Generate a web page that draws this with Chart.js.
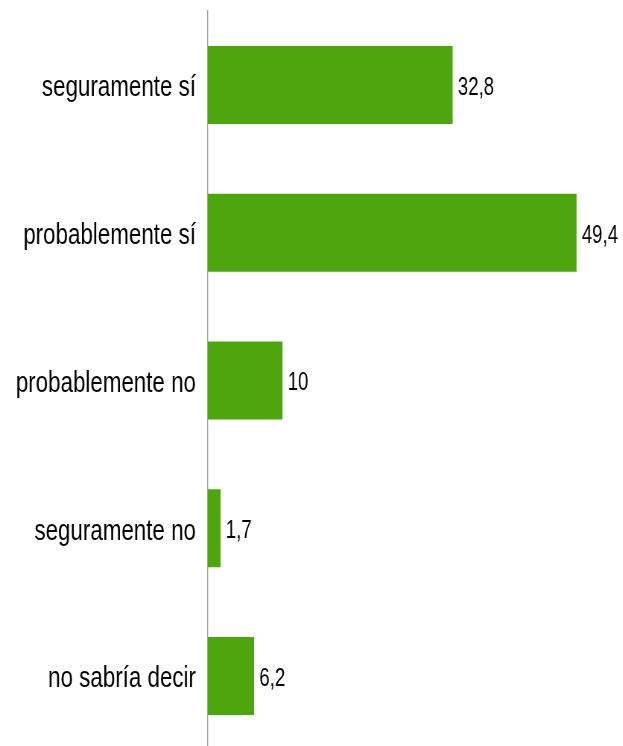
<!DOCTYPE html>
<html>
<head>
<meta charset="utf-8">
<script src="https://cdn.jsdelivr.net/npm/chart.js@4/dist/chart.umd.min.js"></script>
<style>
  html, body { margin: 0; padding: 0; background: #fff; overflow: hidden; }
  /* drawn wide, then squeezed horizontally for a narrow-type look */
  #wrap {
    position: relative;
    width: 836px;
    height: 750px;
    transform: scaleX(0.745);
    transform-origin: 0 0;
  }
</style>
</head>
<body>
<div id="wrap"><canvas id="chart"></canvas></div>
<script>
const categories = ['seguramente sí', 'probablemente sí', 'probablemente no', 'seguramente no', 'no sabría decir'];
const values = [32.8, 49.4, 10, 1.7, 6.2];

const labelFont = "'Liberation Sans', Arial, sans-serif";

// writes the value next to the end of each bar, with a decimal comma
const valueLabels = {
    id: 'valueLabels',
    afterDatasetsDraw(chart) {
        const ctx = chart.ctx;
        const meta = chart.getDatasetMeta(0);
        ctx.save();
        ctx.font = '25px ' + labelFont;
        ctx.fillStyle = '#000';
        ctx.textAlign = 'left';
        ctx.textBaseline = 'middle';
        meta.data.forEach((bar, i) => {
            const txt = String(values[i]).replace('.', ',');
            ctx.fillText(txt, bar.x + 7, bar.y + 3);
        });
        ctx.restore();
    }
};

new Chart(document.getElementById('chart'), {
    type: 'bar',
    data: {
        labels: categories,
        datasets: [{
            data: values,
            backgroundColor: '#4ea60e',
            borderWidth: 0,
            categoryPercentage: 1,
            barPercentage: 0.528
        }]
    },
    options: {
        indexAxis: 'y',
        responsive: true,
        maintainAspectRatio: false,
        animation: false,
        layout: { padding: { top: 11, right: 6, bottom: 0, left: 0 } },
        plugins: {
            legend: { display: false },
            tooltip: { enabled: false }
        },
        scales: {
            x: {
                display: false,
                min: 0,
                max: 55
            },
            y: {
                grid: { display: false },
                border: { display: true, color: '#a0a0a0', width: 1.34 },
                ticks: {
                    color: '#000',
                    padding: 8,
                    labelOffset: 3,
                    font: { family: labelFont, size: 30 }
                },
                afterFit(scale) {
                    scale.width = 279;
                    scale.paddingTop = 0;
                    scale.paddingBottom = 0;
                }
            }
        }
    },
    plugins: [valueLabels]
});
</script>
</body>
</html>
